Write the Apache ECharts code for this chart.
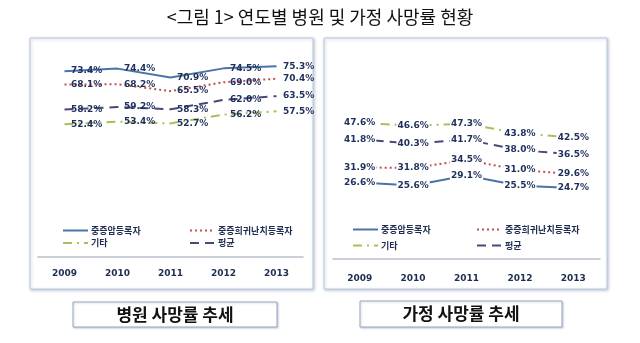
<!DOCTYPE html>
<html><head><meta charset="utf-8">
<script src="https://cdn.jsdelivr.net/npm/echarts@6/dist/echarts.min.js"></script>
<style>html,body{margin:0;padding:0;background:#fff}#c{width:640px;height:343px}</style>
</head><body><div id="c"></div>
<script>
const years = ['2009','2010','2011','2012','2013'];
const seriesNames = ['중증암등록자','중증희귀난치등록자','기타','평균'];
const hospCancer = [73.4,74.4,70.9,74.5,75.3];
const hospRare = [68.1,68.2,65.5,69.0,70.4];
const hospOther = [52.4,53.4,52.7,56.2,57.5];
const hospAvg = [58.2,59.2,58.3,62.0,63.5];
const homeCancer = [26.6,25.6,29.1,25.5,24.7];
const homeRare = [31.9,31.8,34.5,31.0,29.6];
const homeOther = [47.6,46.6,47.3,43.8,42.5];
const homeAvg = [41.8,40.3,41.7,38.0,36.5];
const mainTitle = '<그림 1> 연도별 병원 및 가정 사망률 현황';
const panelTitles = ['병원 사망률 추세','가정 사망률 추세'];

const lineStyles = [
  {color:'#4a74a8', type:'solid', width:2},
  {color:'#c0504d', type:[2,3], width:2},
  {color:'#a8bf5a', type:[9,5,2,5], width:2},
  {color:'#4b4878', type:[9,6], width:2}
];
const panelData = [
  [hospCancer, hospRare, hospOther, hospAvg],
  [homeCancer, homeRare, homeOther, homeAvg]
];
const labelFont = {color:'#1f2f5c', fontSize:9, fontWeight:'bold', fontFamily:'DejaVu Sans'};

const series = [];
panelData.forEach((arr, p) => {
  arr.forEach((d, i) => {
    const st = lineStyles[i];
    series.push({
      type:'line', name:seriesNames[i], xAxisIndex:p, yAxisIndex:p,
      data:d, symbol:'circle', symbolSize:1, showSymbol:true, smooth:false,
      lineStyle:{color:st.color, type:st.type, width:st.width},
      itemStyle:{color:'rgba(0,0,0,0)', borderWidth:0},
      label: p === 0 ? Object.assign({show:true, position:'right', distance:6,
                 formatter:q => q.value.toFixed(1)+'%'}, labelFont)
               : Object.assign({show:true, position:'inside', backgroundColor:'#fff', padding:[0,1],
                 formatter:q => q.value.toFixed(1)+'%'}, labelFont),
      z: 3
    });
  });
});

const axisLabelStyle = {color:'#1f2d50', fontSize:9, fontWeight:'bold', fontFamily:'DejaVu Sans', margin:10};
const legendBase = {orient:'vertical', selectedMode:false, itemWidth:25, itemHeight:10,
  itemStyle:{color:'rgba(0,0,0,0)', borderWidth:0},
  textStyle:{color:'#1f2d50', fontSize:9, fontFamily:'Noto Sans CJK KR', fontWeight:'bold', padding:[0,0,0,-2]}};

const option = {
  animation:false,
  backgroundColor:'#fff',
  title:{text:mainTitle, left:'center', top:3,
    textStyle:{fontSize:18, fontWeight:'normal', color:'#111', fontFamily:'Noto Sans CJK KR'}},
  grid:[
    {left:38, width:265, top:57, bottom:84},
    {left:333, width:267, top:116, bottom:79}
  ],
  xAxis:[
    {type:'category', gridIndex:0, data:years, boundaryGap:true,
     axisLine:{lineStyle:{color:'#b9c0cc', width:1.5}}, axisTick:{show:false}, axisLabel:axisLabelStyle},
    {type:'category', gridIndex:1, data:years, boundaryGap:true,
     axisLine:{lineStyle:{color:'#b9c0cc', width:1.5}}, axisTick:{show:false}, axisLabel:axisLabelStyle}
  ],
  yAxis:[
    {type:'value', gridIndex:0, min:-1, max:79, show:false, splitLine:{show:false}},
    {type:'value', gridIndex:1, min:-2, max:50, show:false, splitLine:{show:false}}
  ],
  legend:[
    Object.assign({}, legendBase, {data:[seriesNames[0], seriesNames[2]], left:57, top:221, itemGap:3.5}),
    Object.assign({}, legendBase, {data:[seriesNames[1], seriesNames[3]], left:184, top:221, itemGap:3.5}),
    Object.assign({}, legendBase, {data:[seriesNames[0], seriesNames[2]], left:347, top:220, itemGap:7}),
    Object.assign({}, legendBase, {data:[seriesNames[1], seriesNames[3]], left:471, top:220, itemGap:7})
  ],
  graphic:[
    {type:'rect', z:-10, shape:{x:30, y:38, width:283, height:251},
     style:{fill:'#fff', stroke:'#bcc8dc', lineWidth:1, shadowBlur:3, shadowOffsetX:1, shadowOffsetY:1, shadowColor:'rgba(110,130,170,0.45)'}},
    {type:'rect', z:-10, shape:{x:324, y:38, width:283, height:251},
     style:{fill:'#fff', stroke:'#bcc8dc', lineWidth:1, shadowBlur:3, shadowOffsetX:1, shadowOffsetY:1, shadowColor:'rgba(110,130,170,0.45)'}},
    {type:'rect', z:-10, shape:{x:73, y:302, width:204, height:25},
     style:{fill:'#fff', stroke:'#9aa6bd', lineWidth:1, shadowBlur:2, shadowOffsetX:1, shadowOffsetY:1, shadowColor:'rgba(110,130,170,0.35)'}},
    {type:'rect', z:-10, shape:{x:360, y:301, width:202, height:26},
     style:{fill:'#fff', stroke:'#9aa6bd', lineWidth:1, shadowBlur:2, shadowOffsetX:1, shadowOffsetY:1, shadowColor:'rgba(110,130,170,0.35)'}},
    {type:'text', x:175, y:315, style:{text:panelTitles[0], fill:'#111', font:'bold 17px "Noto Sans CJK KR"', textAlign:'center', textVerticalAlign:'middle'}},
    {type:'text', x:461, y:314, style:{text:panelTitles[1], fill:'#111', font:'bold 17px "Noto Sans CJK KR"', textAlign:'center', textVerticalAlign:'middle'}}
  ],
  series:series
};
const chart = echarts.init(document.getElementById('c'), null, {renderer:'canvas'});
chart.setOption(option);
</script></body></html>
